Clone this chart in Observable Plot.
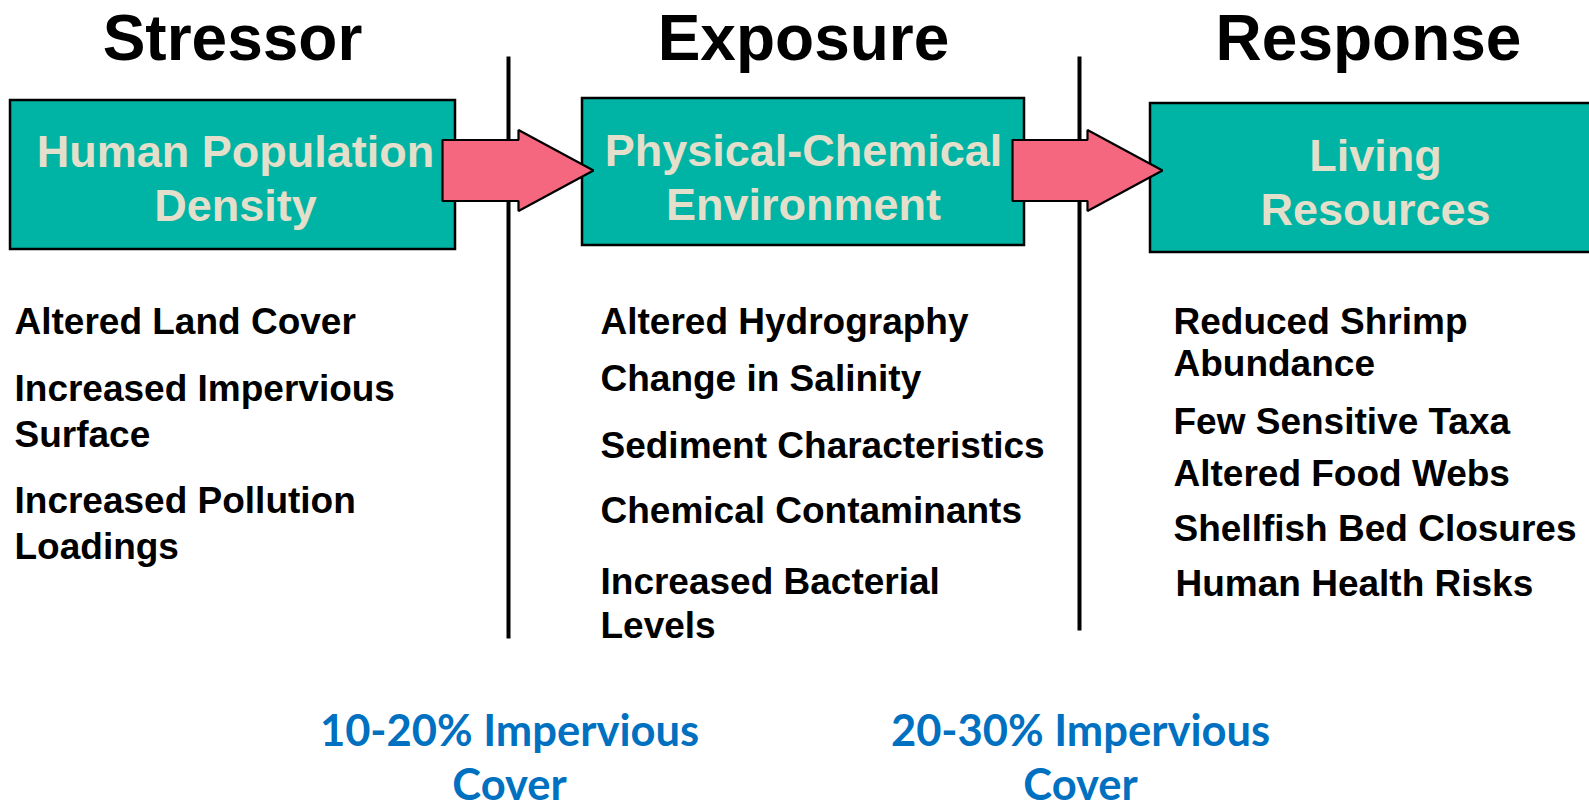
<!DOCTYPE html>
<html>
<head>
<meta charset="utf-8">
<script src="https://cdn.jsdelivr.net/npm/d3@7"></script>
<script src="https://cdn.jsdelivr.net/npm/@observablehq/plot@0.6"></script>
<style>
  html, body { margin: 0; padding: 0; background: #ffffff; }
  #chart svg { display: block; }
</style>
</head>
<body>
<div id="chart"></div>
<script>
// ---------- content ----------
const stages = ["Stressor", "Exposure", "Response"];
const boxLabels = ["Human Population\nDensity", "Physical-Chemical\nEnvironment", "Living\nResources"];
const stressorItems = ["Altered Land Cover", "Increased Impervious\nSurface", "Increased Pollution\nLoadings"];
const exposureItems = ["Altered Hydrography", "Change in Salinity", "Sediment Characteristics", "Chemical Contaminants", "Increased Bacterial\nLevels"];
const responseItems = ["Reduced Shrimp\nAbundance", "Few Sensitive Taxa", "Altered Food Webs", "Shellfish Bed Closures", "Human Health Risks"];
const thresholds = ["10-20% Impervious\nCover", "20-30% Impervious\nCover"];

// ---------- layout (pixel space of the 1589 x 807 canvas) ----------
const W = 1589, H = 807;
const titleX = [232, 803, 1368];
const titleBaseline = 59;
const boxX1 = [10, 582, 1150];
const boxX2 = [455, 1024, 1600];
const boxY1 = [100, 98, 103];
const boxY2 = [249, 245, 252];
const boxTextX = [235, 803, 1375];
const boxTextBaseline = [166, 165, 170];
const boxLineGap = 54;
const dividerX = [508, 1079];
const dividerY1 = [56, 56];
const dividerY2 = [638, 630];
// arrows: shaft left, head base, tip, center y, shaft half-height, head half-height
const arrowX0 = [442, 1012];
const arrowXH = [518, 1087];
const arrowXT = [593, 1162];
const arrowYC = [170, 170];
const arrowShaftHalf = 30.5;
const arrowHeadHalf = 40.5;
const listX = [14, 600, 1173];
const stressorBaselines = [333, 400, 512];
const exposureBaselines = [333, 390, 457, 522, 593];
const responseBaselines = [333, 433, 485, 540, 595];
const listLineGap = [46, 44, 42];
const thresholdX = [509, 1080];
const thresholdBaseline = 745;
const thresholdLineGap = 54;

// ---------- colours / fonts ----------
const teal = "#00B4A5";
const pink = "#F5677F";
const beige = "#E4DFCB";
const blue = "#0070C0";
const arial = "Liberation Sans, Arial, Helvetica, sans-serif";
const calibriLike = "Lato, Carlito, Calibri, sans-serif";

// ---------- derived tables ----------
const titles = stages.map((s, i) => ({text: s, x: titleX[i], y: titleBaseline}));
const boxes = boxLabels.map((s, i) => ({x1: boxX1[i], x2: boxX2[i], y1: boxY1[i], y2: boxY2[i]}));
function splitLines(labels, xs, baselines, gap) {
  return labels.flatMap((s, i) => s.split("\n").map((line, j) => ({
    text: line,
    x: Array.isArray(xs) ? xs[i] : xs,
    y: (Array.isArray(baselines) ? baselines[i] : baselines) + j * gap
  })));
}
const boxText = splitLines(boxLabels, boxTextX, boxTextBaseline, boxLineGap);
const listText = [
  ...splitLines(stressorItems, listX[0], stressorBaselines, listLineGap[0]),
  ...splitLines(exposureItems, listX[1], exposureBaselines, listLineGap[1]),
  ...splitLines(responseItems, listX[2], responseBaselines, listLineGap[2])
].map(d => d.text === "Human Health Risks" ? {...d, x: d.x + 2} : d);
const thresholdText = splitLines(thresholds, thresholdX, thresholdBaseline, thresholdLineGap);
const dividers = dividerX.map((x, i) => ({x, y1: dividerY1[i], y2: dividerY2[i]}));
const arrows = arrowX0.flatMap((x0, i) => {
  const xh = arrowXH[i], xt = arrowXT[i], yc = arrowYC[i];
  const pts = [
    [x0, yc - arrowShaftHalf], [xh, yc - arrowShaftHalf], [xh, yc - arrowHeadHalf],
    [xt, yc], [xh, yc + arrowHeadHalf], [xh, yc + arrowShaftHalf],
    [x0, yc + arrowShaftHalf], [x0, yc - arrowShaftHalf]
  ];
  return pts.map(([x, y]) => ({arrow: i, x, y}));
});

const chart = Plot.plot({
  width: W,
  height: H,
  margin: 0,
  x: {domain: [0, W], range: [0, W], axis: null},
  y: {domain: [0, H], range: [0, H], axis: null},
  style: {background: "#ffffff", overflow: "hidden"},
  marks: [
    Plot.rect(boxes, {x1: "x1", x2: "x2", y1: "y1", y2: "y2", fill: teal, stroke: "#000", strokeWidth: 2.5}),
    Plot.link(dividers, {x1: "x", x2: "x", y1: "y1", y2: "y2", stroke: "#000", strokeWidth: 4}),
    Plot.line(arrows, {x: "x", y: "y", z: "arrow", fill: pink, stroke: "#000", strokeWidth: 2.2, strokeLinejoin: "miter", curve: "linear"}),
    Plot.text(titles, {x: "x", y: "y", text: "text", fontSize: 64, fontWeight: "bold", fontFamily: arial, fill: "#000", lineAnchor: "bottom", textAnchor: "middle"}),
    Plot.text(boxText, {x: "x", y: "y", text: "text", fontSize: 45, fontWeight: "bold", fontFamily: arial, fill: beige, lineAnchor: "bottom", textAnchor: "middle"}),
    Plot.text(listText, {x: "x", y: "y", text: "text", fontSize: 37, fontWeight: "bold", fontFamily: arial, fill: "#000", lineAnchor: "bottom", textAnchor: "start"}),
    Plot.text(thresholdText, {x: "x", y: "y", text: "text", fontSize: 43.5, fontWeight: "bold", fontFamily: calibriLike, fill: blue, lineAnchor: "bottom", textAnchor: "middle"})
  ]
});
document.getElementById("chart").appendChild(chart);
</script>
</body>
</html>
